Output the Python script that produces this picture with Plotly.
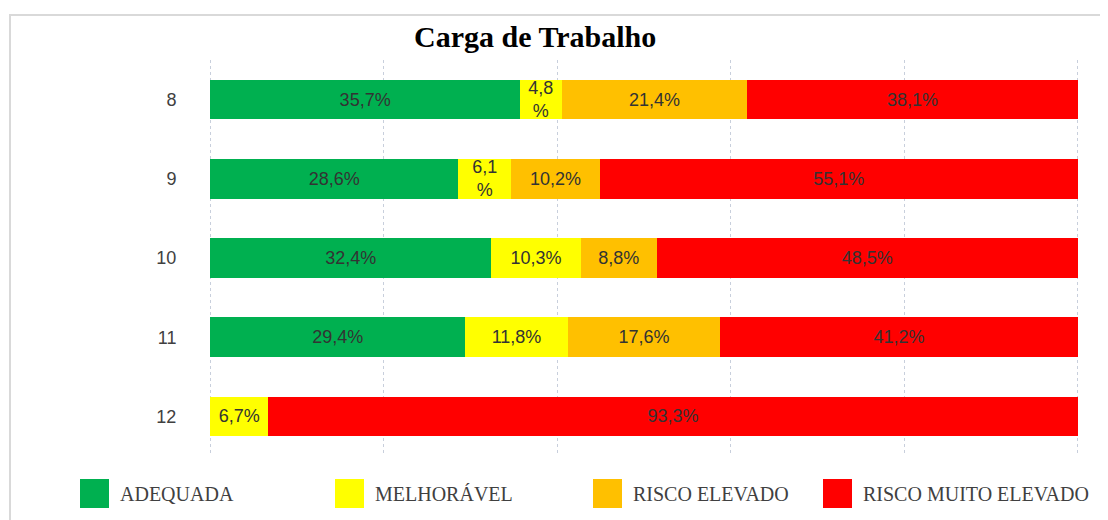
import plotly.graph_objects as go

categories = ["8", "9", "10", "11", "12"]
series_names = ["ADEQUADA", "MELHORÁVEL", "RISCO ELEVADO", "RISCO MUITO ELEVADO"]
adequada = [35.7, 28.6, 32.4, 29.4, 0.0]
melhoravel = [4.8, 6.1, 10.3, 11.8, 6.7]
risco_elevado = [21.4, 10.2, 8.8, 17.6, 0.0]
risco_muito_elevado = [38.1, 55.1, 48.5, 41.2, 93.3]
# labels that wrap onto two lines in the original (narrow segments)
wrap_melhoravel = [True, True, False, False, False]

series_values = [adequada, melhoravel, risco_elevado, risco_muito_elevado]
colors = ["#00B050", "#FFFF00", "#FFC000", "#FF0000"]


def fmt(v, wrap=False):
    if v <= 0:
        return ""
    s = f"{v:.1f}".replace(".", ",")
    return s + ("<br>%" if wrap else "%")


# page body has an 8px margin; work in screen pixels and shift
OFF = 8
W, H = 1108 - OFF, 520 - OFF
L, R, T, B = 209, 1079, 60, 456  # plot area in screen pixels


def px(x):
    return (x - L) / (R - L)


def py(y):
    return (B - y) / (B - T)


fig = go.Figure()
for i, (name, vals, col) in enumerate(zip(series_names, series_values, colors)):
    if i == 1:
        texts = [fmt(v, w) for v, w in zip(vals, wrap_melhoravel)]
    else:
        texts = [fmt(v) for v in vals]
    fig.add_trace(go.Bar(
        y=categories, x=vals, name=name, orientation="h",
        marker=dict(color=col, line=dict(width=0)),
        text=texts, textposition="inside", insidetextanchor="middle",
        textangle=0, constraintext="none",
        textfont=dict(family="Liberation Sans, Arial, sans-serif", size=18, color="#333333"),
        showlegend=False, hoverinfo="skip",
    ))

shapes = [
    # outer chart border (left & top visible)
    dict(type="rect", xref="paper", yref="paper",
         x0=px(10), x1=px(1130), y0=py(540), y1=py(15),
         line=dict(color="#d9d9d9", width=2), fillcolor="rgba(0,0,0,0)", layer="below"),
]
annotations = [
    dict(text="<b>Carga de Trabalho</b>", xref="paper", yref="paper",
         x=px(535), y=py(37), showarrow=False, xanchor="center", yanchor="middle",
         font=dict(family="Liberation Serif, Times New Roman, serif", size=30, color="#000000")),
]
legend_sq_left = [80, 335, 593, 823]
for name, col, sx in zip(series_names, colors, legend_sq_left):
    shapes.append(dict(type="rect", xref="paper", yref="paper",
                       x0=px(sx), x1=px(sx + 29), y0=py(508), y1=py(479),
                       fillcolor=col, line=dict(width=0)))
    annotations.append(dict(text=name, xref="paper", yref="paper",
                            x=px(sx + 38), y=py(494), showarrow=False,
                            xanchor="left", yanchor="middle",
                            font=dict(family="Liberation Serif, Times New Roman, serif",
                                      size=20, color="#404040")))

fig.update_layout(
    width=W, height=H,
    barmode="stack", bargap=0.5,
    margin=dict(l=L - OFF, r=1108 - R, t=T - OFF, b=520 - B, pad=0),
    paper_bgcolor="white", plot_bgcolor="white",
    separators=",.",
    shapes=shapes, annotations=annotations,
    xaxis=dict(range=[-0.15, 100.15], tickvals=[0, 20, 40, 60, 80, 100], showticklabels=False,
               showgrid=True, gridcolor="#c8cfdc", griddash="dot", gridwidth=1,
               zeroline=False, showline=False, fixedrange=True),
    yaxis=dict(type="category", autorange="reversed", showgrid=False, zeroline=False,
               showline=False, ticks="outside", ticklen=28, tickcolor="rgba(0,0,0,0)",
               tickfont=dict(family="Liberation Sans, Arial, sans-serif", size=18, color="#404040")),
)

fig.write_html("out.html")
